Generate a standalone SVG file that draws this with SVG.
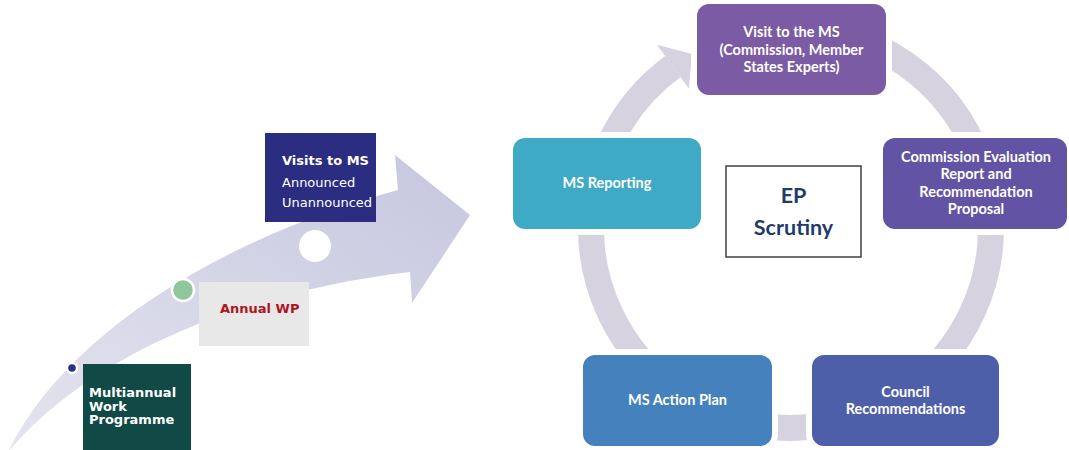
<svg xmlns="http://www.w3.org/2000/svg" width="1069" height="450" viewBox="0 0 1069 450">
  <defs>
    <linearGradient id="arrowGrad" x1="0" y1="1" x2="1" y2="0">
      <stop offset="0" stop-color="#e4e4ef"/>
      <stop offset="1" stop-color="#c6c7df"/>
    </linearGradient>
    <style>
      .box { stroke: #ffffff; stroke-width: 12; paint-order: stroke fill; }
      .lbl { font-family: Lato, "Open Sans", sans-serif; font-weight: 700; font-size: 14.5px; fill: #ffffff; text-anchor: middle; }
      .ring { fill: none; stroke: #d7d2e0; stroke-width: 26; }
      .vtxt { font-family: "DejaVu Sans", Verdana, sans-serif; font-size: 13px; }
      .ep { font-family: Lato, "Open Sans", sans-serif; font-weight: 700; font-size: 21.5px; fill: #1f3b6e; text-anchor: middle; }
    </style>
  </defs>
  <rect width="1069" height="450" fill="#ffffff"/>

  <!-- Left timeline arrow -->
  <g id="timeline-arrow">
    <path d="M8,452 C60,345 200,245 398,190 L395,155 L470,215 L412,303 L410,272 C240,292 90,355 8,452 Z" fill="url(#arrowGrad)"/>
  </g>

  <g id="node-multiannual">
    <rect x="83" y="364" width="108" height="88" fill="#114946"/>
    <text class="vtxt" font-weight="700" fill="#ffffff"><tspan x="89" y="397">Multiannual</tspan><tspan x="89" y="410.5">Work</tspan><tspan x="89" y="424">Programme</tspan></text>
    <circle cx="72" cy="368" r="5" fill="#2b2f8a" stroke="#ffffff" stroke-width="2.5"/>
  </g>

  <g id="node-annual">
    <rect x="199" y="282" width="110" height="64" fill="#e8e8e9"/>
    <text class="vtxt" font-weight="700" fill="#b0141c" x="220" y="313">Annual WP</text>
    <circle cx="183" cy="290" r="11" fill="#8fc79a" stroke="#ffffff" stroke-width="2.5"/>
  </g>

  <g id="node-visits">
    <rect x="265" y="133" width="111" height="89" fill="#2a2d80"/>
    <text class="vtxt" fill="#ffffff"><tspan x="282" y="165" font-weight="700">Visits to MS</tspan><tspan x="282" y="187">Announced</tspan><tspan x="282" y="207">Unannounced</tspan></text>
    <circle cx="315" cy="246" r="16" fill="#ffffff"/>
  </g>

  <!-- Cycle connectors -->
  <g id="connectors">
    <path class="ring" d="M594,193.3 A200,200 0 0 1 672.9,66.6"/>
    <polygon points="656.9,44.8 692,54 688.8,88.4" fill="#d7d2e0"/>
    <path class="ring" d="M791,28 A200,200 0 0 1 979,159.6"/>
    <path class="ring" d="M990.2,210.6 A200,200 0 0 1 905.7,391.8"/>
    <path class="ring" d="M859.4,415.9 A200,200 0 0 1 722.6,415.9"/>
    <path class="ring" d="M676.3,391.8 A200,200 0 0 1 591.8,210.6"/>
  </g>

  <g id="node-visit-ms">
    <rect class="box" x="697" y="4" width="189" height="91" rx="12" fill="#7b5ba3"/>
    <text class="lbl"><tspan x="791.5" y="37">Visit to the MS</tspan><tspan x="791.5" y="55">(Commission, Member</tspan><tspan x="791.5" y="72">States Experts)</tspan></text>
  </g>

  <g id="node-commission">
    <rect class="box" x="883" y="138" width="184" height="91" rx="12" fill="#6253a4"/>
    <text class="lbl"><tspan x="976" y="162">Commission Evaluation</tspan><tspan x="976" y="179">Report and</tspan><tspan x="976" y="197">Recommendation</tspan><tspan x="976" y="214">Proposal</tspan></text>
  </g>

  <g id="node-council">
    <rect class="box" x="812" y="355" width="187" height="91" rx="12" fill="#4e5fa9"/>
    <text class="lbl"><tspan x="905.5" y="397">Council</tspan><tspan x="905.5" y="414">Recommendations</tspan></text>
  </g>

  <g id="node-action">
    <rect class="box" x="583" y="355" width="189" height="91" rx="12" fill="#4581bd"/>
    <text class="lbl" x="677.5" y="405">MS Action Plan</text>
  </g>

  <g id="node-reporting">
    <rect class="box" x="513" y="138" width="188" height="91" rx="12" fill="#3eaac6"/>
    <text class="lbl" x="607" y="188">MS Reporting</text>
  </g>

  <g id="node-ep">
    <rect x="726" y="166" width="135" height="91" fill="#ffffff" stroke="#404040" stroke-width="1.5"/>
    <text class="ep"><tspan x="793.5" y="203">EP</tspan><tspan x="793.5" y="235">Scrutiny</tspan></text>
  </g>
</svg>
